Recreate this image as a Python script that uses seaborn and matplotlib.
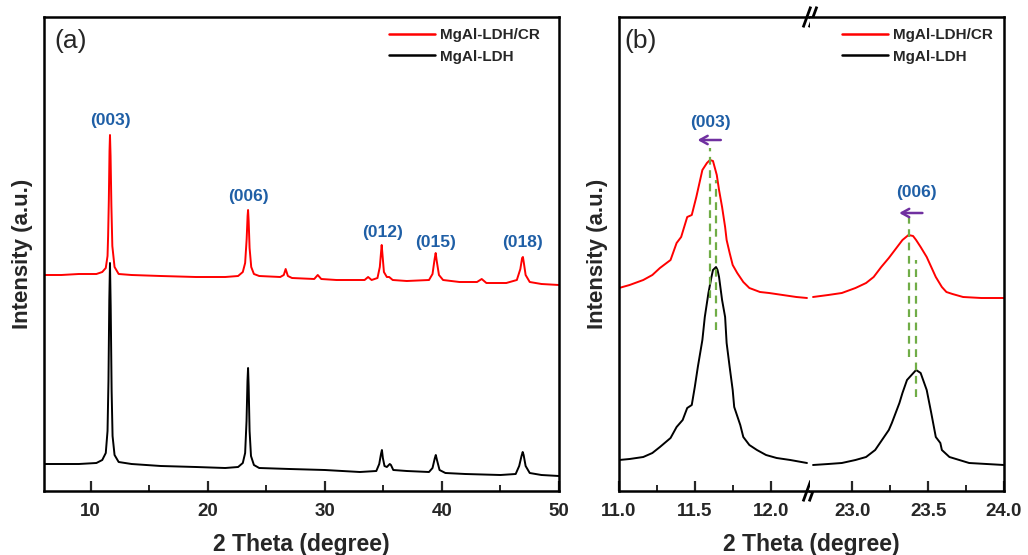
import numpy as np
import pandas as pd
import matplotlib
matplotlib.use("Agg")
import matplotlib.pyplot as plt
from matplotlib.ticker import FixedLocator
import seaborn as sns

# ---------------- data ----------------
# Panel (a): full pattern, intensity in a.u. (offset already included)
a_red_x = [6.0, 7.5, 9.0, 10.5, 11.0, 11.3, 11.45, 11.5, 11.56, 11.62, 11.66, 11.71, 11.78, 11.86,
           12.05, 12.4, 13.5, 16.0, 19.0, 21.5, 22.6, 23.0, 23.2, 23.33, 23.41, 23.45, 23.5, 23.58,
           23.72, 23.95, 24.4, 26.2, 26.5, 26.66, 26.85, 27.2, 29.1, 29.4, 29.7, 31.0, 33.4, 33.7,
           34.0, 34.5, 34.7, 34.8, 34.86, 34.93, 35.05, 35.3, 35.5, 35.8, 37.0, 38.9, 39.2, 39.38,
           39.47, 39.56, 39.75, 40.1, 41.5, 43.0, 43.4, 43.8, 45.5, 46.4, 46.7, 46.85, 46.92, 47.0,
           47.15, 47.5, 48.5, 50.0]
a_red_y = [216, 216, 217, 217, 219, 223, 235, 255, 290, 340, 356, 335, 285, 245,
           224, 217, 216, 215, 214, 214, 215, 219, 228, 252, 275, 281, 270, 243,
           224, 217, 215, 214, 216, 222, 215, 213, 212, 216, 212, 211, 211, 214,
           211, 213, 224, 238, 246, 236, 219, 214, 214, 211, 210, 211, 217, 232,
           238, 230, 216, 211, 209, 209, 212, 208, 208, 211, 222, 233, 234, 228,
           216, 209, 207, 206]

a_blk_x = [6.0, 7.5, 9.0, 10.5, 11.0, 11.3, 11.45, 11.53, 11.6, 11.66, 11.72, 11.8, 11.88,
           12.05, 12.4, 13.5, 16.0, 19.0, 21.5, 22.6, 23.0, 23.2, 23.32, 23.4, 23.45, 23.5,
           23.58, 23.7, 23.95, 24.4, 27.0, 30.0, 33.0, 34.4, 34.65, 34.8, 34.88, 34.96, 35.1,
           35.3, 35.55, 35.65, 35.85, 37.0, 38.9, 39.2, 39.4, 39.48, 39.58, 39.8, 40.3, 42.0,
           45.0, 46.3, 46.6, 46.8, 46.9, 46.98, 47.15, 47.5, 48.5, 50.0]
a_blk_y = [27, 27, 27, 28, 31, 38, 60, 110, 190, 228, 185, 100, 55,
           36, 29, 27, 25, 24, 23, 24, 28, 38, 70, 110, 123, 105,
           60, 35, 26, 23, 22, 21, 19, 20, 27, 37, 41, 33, 25,
           24, 27, 26, 21, 20, 19, 23, 33, 36, 31, 21, 18, 17,
           16, 17, 25, 35, 39, 36, 25, 18, 16, 15]

# Panel (b): zoomed (003) and (006) reflections
b1_red_x = [11.0, 11.07, 11.16, 11.22, 11.27, 11.34, 11.38, 11.41, 11.45, 11.48, 11.51, 11.55,
            11.58, 11.60, 11.62, 11.645, 11.66, 11.68, 11.70, 11.71, 11.73, 11.75, 11.78, 11.82,
            11.86, 11.93, 11.99, 12.08, 12.17, 12.24]
b1_red_y = [203, 206, 211, 216, 223, 231, 248, 254, 274, 276, 294, 321,
            328, 331, 330, 316, 301, 284, 264, 251, 238, 226, 218, 209,
            203, 199, 198, 196, 194, 193]
b1_blk_x = [11.0, 11.07, 11.16, 11.22, 11.27, 11.34, 11.38, 11.42, 11.45, 11.48, 11.50, 11.52,
            11.55, 11.566, 11.59, 11.61, 11.62, 11.64, 11.65, 11.66, 11.68, 11.70, 11.71, 11.73,
            11.75, 11.76, 11.80, 11.82, 11.86, 11.91, 11.97, 12.04, 12.13, 12.24]
b1_blk_y = [31, 32, 34, 38, 44, 53, 64, 71, 83, 86, 104, 124,
            151, 174, 198, 214, 221, 224, 221, 214, 191, 174, 148, 124,
            101, 84, 66, 54, 46, 41, 36, 33, 31, 28]

b2_red_x = [22.74, 22.84, 22.93, 23.02, 23.09, 23.14, 23.19, 23.24, 23.29, 23.33, 23.37, 23.40,
            23.42, 23.45, 23.49, 23.52, 23.55, 23.59, 23.62, 23.66, 23.73, 23.85, 24.0]
b2_red_y = [194, 196, 198, 203, 208, 214, 224, 233, 243, 251, 256, 255,
            251, 244, 234, 224, 214, 204, 199, 197, 194, 193, 193]
b2_blk_x = [22.74, 22.84, 22.93, 23.02, 23.09, 23.15, 23.24, 23.26, 23.31, 23.33, 23.36, 23.39,
            23.42, 23.45, 23.49, 23.52, 23.55, 23.58, 23.59, 23.64, 23.77, 24.0]
b2_blk_y = [26, 27, 28, 31, 34, 41, 61, 68, 88, 98, 111, 116,
            121, 118, 101, 78, 54, 48, 41, 34, 28, 26]

series_names = ["MgAl-LDH/CR", "MgAl-LDH"]
a_hkl = ["(003)", "(006)", "(012)", "(015)", "(018)"]
b_hkl = ["(003)", "(006)"]
a_xticks = [10, 20, 30, 40, 50]
b1_xticks = [11.0, 11.5, 12.0]
b2_xticks = [23.0, 23.5, 24.0]

# ---------------- style ----------------
sns.set_theme(style="white")
plt.rcParams["font.family"] = ["Liberation Sans", "DejaVu Sans"]
plt.rcParams["font.weight"] = "bold"

RED = "#ff0000"
BLK = "#000000"
BLUE = "#1f5fa6"
PURPLE = "#7030a0"
GREEN = "#70ad47"
SPINE_W = 1.8
LINE_W = 1.4

fig = plt.figure(figsize=(10.28, 5.55), dpi=100)
W, H = 1028, 555

def rect(l, r, t, b):
    return [l / W, 1 - b / H, (r - l) / W, (b - t) / H]

axA = fig.add_axes(rect(43.7, 559, 17, 491))
axB1 = fig.add_axes(rect(619, 810, 17, 491))
axB2 = fig.add_axes(rect(810, 1004, 17, 491))

def style_axis(ax):
    for s in ax.spines.values():
        s.set_linewidth(SPINE_W)
        s.set_color("black")
    ax.set_yticks([])
    ax.tick_params(axis="x", which="major", direction="in", length=7, width=1.6,
                   labelsize=13.5, pad=9, bottom=True, top=False)
    ax.tick_params(axis="x", which="minor", direction="in", length=4, width=1.4,
                   bottom=True, top=False)
    for lab in ax.get_xticklabels():
        lab.set_fontweight("bold")

def style_legend(leg):
    for t in leg.get_texts():
        t.set_fontweight("bold")
    for l in leg.get_lines():
        l.set_linewidth(1.8)

# ---- panel (a)
df_a = pd.DataFrame({"x": a_red_x + a_blk_x,
                     "y": a_red_y + a_blk_y,
                     "s": [series_names[0]] * len(a_red_x) + [series_names[1]] * len(a_blk_x)})
sns.lineplot(data=df_a, x="x", y="y", hue="s", palette=[RED, BLK], sort=False,
             estimator=None, lw=LINE_W, ax=axA)
axA.set_xlim(6, 50)
axA.set_ylim(0, 474)
axA.set_xticks(a_xticks)
axA.xaxis.set_minor_locator(FixedLocator([15, 25, 35, 45]))
axA.set_xticklabels([str(t) for t in a_xticks])
style_axis(axA)
axA.set_xlabel("")
axA.set_ylabel("Intensity (a.u.)", fontsize=16, fontweight="bold", labelpad=8)
leg = axA.legend(loc="upper left", bbox_to_anchor=(0.67, 0.977), frameon=False,
                 fontsize=11, handlelength=3.0, handletextpad=0.35, labelspacing=0.5,
                 borderpad=0, borderaxespad=0)
style_legend(leg)
axA.text(0.02, 0.975, "(a)", transform=axA.transAxes, fontsize=19, fontweight="normal",
         ha="left", va="top")

a_lab_pos = [(11.66, 370), (23.45, 295), (34.9, 259), (39.5, 248), (46.9, 248)]
for txt, (lx, ly) in zip(a_hkl, a_lab_pos):
    axA.text(lx, ly, txt, color=BLUE, fontsize=12.5, fontweight="bold", ha="center", va="center")

# ---- panel (b)
df_b1 = pd.DataFrame({"x": b1_red_x + b1_blk_x, "y": b1_red_y + b1_blk_y,
                      "s": [series_names[0]] * len(b1_red_x) + [series_names[1]] * len(b1_blk_x)})
df_b2 = pd.DataFrame({"x": b2_red_x + b2_blk_x, "y": b2_red_y + b2_blk_y,
                      "s": [series_names[0]] * len(b2_red_x) + [series_names[1]] * len(b2_blk_x)})
sns.lineplot(data=df_b1, x="x", y="y", hue="s", palette=[RED, BLK], sort=False,
             estimator=None, lw=LINE_W, ax=axB1, legend=False)
sns.lineplot(data=df_b2, x="x", y="y", hue="s", palette=[RED, BLK], sort=False,
             estimator=None, lw=LINE_W, ax=axB2)
axB1.set_xlim(11.0, 12.26)
axB2.set_xlim(22.72, 24.0)
for ax in (axB1, axB2):
    ax.set_ylim(0, 474)
axB1.set_xticks(b1_xticks)
axB1.set_xticklabels([f"{t:.1f}" for t in b1_xticks])
axB1.xaxis.set_minor_locator(FixedLocator([11.25, 11.75]))
axB2.set_xticks(b2_xticks)
axB2.set_xticklabels([f"{t:.1f}" for t in b2_xticks])
axB2.xaxis.set_minor_locator(FixedLocator([23.25, 23.75]))
style_axis(axB1)
style_axis(axB2)
axB1.spines["right"].set_visible(False)
axB2.spines["left"].set_visible(False)
axB1.set_xlabel("")
axB2.set_xlabel("")
axB2.set_ylabel("")
axB1.set_ylabel("Intensity (a.u.)", fontsize=16, fontweight="bold", labelpad=8)

leg2 = axB2.legend(loc="upper left", bbox_to_anchor=(0.165, 0.977), frameon=False,
                   fontsize=11, handlelength=3.0, handletextpad=0.35, labelspacing=0.5,
                   borderpad=0, borderaxespad=0)
style_legend(leg2)
axB1.text(0.03, 0.975, "(b)", transform=axB1.transAxes, fontsize=19, fontweight="normal",
          ha="left", va="top")

# break marks
for yb in (0.0, 1.0):
    for off in (-0.016, 0.016):
        axB1.plot([1 + off - 0.02, 1 + off + 0.02], [yb - 0.022, yb + 0.022],
                  transform=axB1.transAxes, color="black", lw=2.0, clip_on=False,
                  solid_capstyle="butt", zorder=10)

# annotations panel (b)
dash = dict(color=GREEN, lw=1.6, ls=(0, (3.5, 2.5)))
axB1.plot([11.60, 11.60], [193, 343], **dash)
axB1.plot([11.64, 11.64], [161, 311], **dash)
axB2.plot([23.37, 23.37], [134, 273], **dash)
axB2.plot([23.42, 23.42], [94, 231], **dash)
arrow = dict(arrowstyle="->,head_length=0.45,head_width=0.25", color=PURPLE, lw=1.8)
axB1.annotate("", xy=(11.50, 351), xytext=(11.69, 351), arrowprops=arrow)
axB2.annotate("", xy=(23.29, 278), xytext=(23.48, 278), arrowprops=arrow)
axB1.text(11.60, 369, b_hkl[0], color=BLUE, fontsize=12.5, fontweight="bold",
          ha="center", va="center")
axB2.text(23.42, 298, b_hkl[1], color=BLUE, fontsize=12.5, fontweight="bold",
          ha="center", va="center")

# x labels
fig.text((43.7 + 559) / 2 / W, 1 - 545 / H, "2 Theta (degree)", fontsize=16.5,
         fontweight="bold", ha="center", va="center")
fig.text((619 + 1004) / 2 / W, 1 - 545 / H, "2 Theta (degree)", fontsize=16.5,
         fontweight="bold", ha="center", va="center")

fig.savefig("out.png", dpi=100, facecolor="white")
